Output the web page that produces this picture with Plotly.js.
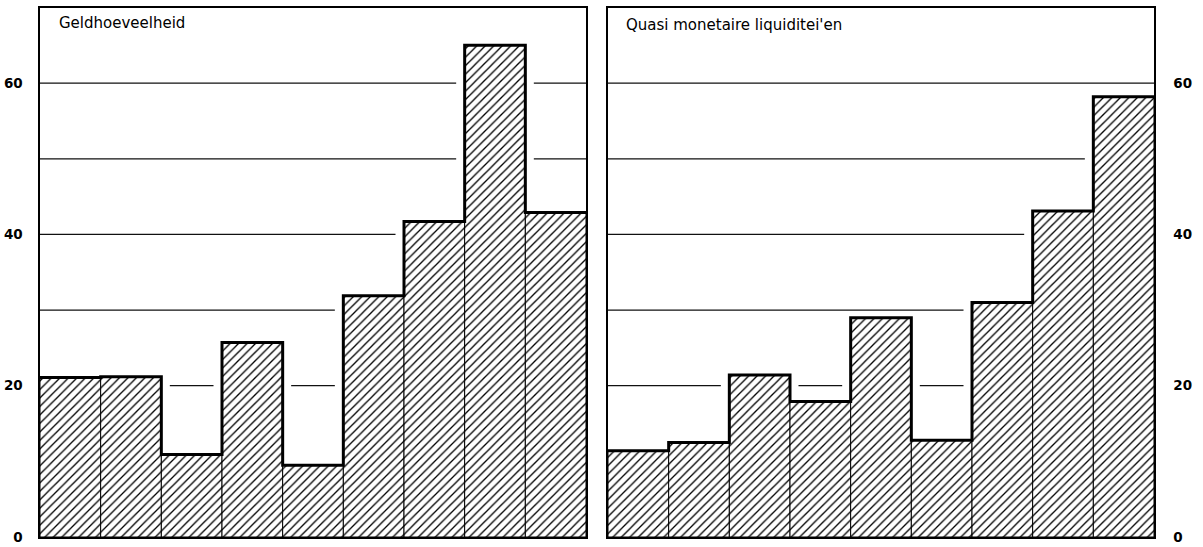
<!DOCTYPE html>
<html>
<head>
<meta charset="utf-8">
<script src="https://cdn.plot.ly/plotly-3.0.1.min.js"></script>
<style>
  html, body { margin: 0; padding: 0; background: #fff; }
  #chart { width: 1203px; height: 547px; }
</style>
</head>
<body>
<div id="chart"></div>
<script>
// Panel titles
const titleLeft = "Geldhoeveelheid";
const titleRight = "Quasi monetaire liquiditei'en";

// Nine consecutive periods per panel (values in index units)
const geldhoeveelheid = [21.1, 21.2, 10.9, 25.7, 9.5, 31.9, 41.7, 65.0, 42.9];
const quasiMonetair   = [11.4, 12.5, 21.4, 17.9, 29.0, 12.8, 31.0, 43.1, 58.2];

// Axis ticks and the horizontal reference levels
const tickValues = [0, 20, 40, 60];
const tickLabels = ["0", "20", "40", "60"];
const gridLevels = [20, 30, 40, 50, 60];

const yMax = 70;
const nBars = geldhoeveelheid.length;
const barCentres = geldhoeveelheid.map((_, i) => i + 0.5);
const stepX = Array.from({length: nBars + 1}, (_, i) => i);

function hatchedBars(vals, xa, ya) {
  return {
    type: 'bar', x: barCentres, y: vals, width: 1,
    xaxis: xa, yaxis: ya,
    marker: {
      color: 'white',
      line: {color: '#000', width: 1},
      pattern: {shape: '/', fgcolor: '#000', bgcolor: '#fff', size: 6, solidity: 0.22}
    },
    hoverinfo: 'skip', showlegend: false
  };
}

function outline(vals, xa, ya) {
  return {
    type: 'scatter', mode: 'lines', x: stepX, y: vals.concat([vals[vals.length - 1]]),
    xaxis: xa, yaxis: ya, line: {shape: 'hv', color: '#000', width: 3},
    hoverinfo: 'skip', showlegend: false, cliponaxis: false
  };
}

// Reference lines run only over the empty area, stopping short of the bars
function gridShapes(vals, xref, yref) {
  const pad = 0.14;
  const shapes = [];
  gridLevels.forEach(level => {
    let i = 0;
    while (i < vals.length) {
      if (vals[i] < level) {
        let j = i;
        while (j + 1 < vals.length && vals[j + 1] < level) j++;
        const x0 = i === 0 ? 0 : i + pad;
        const x1 = j === vals.length - 1 ? vals.length : j + 1 - pad;
        shapes.push({
          type: 'line', xref: xref, yref: yref, x0: x0, x1: x1, y0: level, y1: level,
          line: {color: '#111', width: 1.2}, layer: 'below'
        });
        i = j + 1;
      } else {
        i++;
      }
    }
  });
  return shapes;
}

const data = [
  hatchedBars(geldhoeveelheid, 'x', 'y'),
  outline(geldhoeveelheid, 'x', 'y'),
  hatchedBars(quasiMonetair, 'x2', 'y2'),
  outline(quasiMonetair, 'x2', 'y2')
];

const yDomain = [10 / 547, 539.5 / 547];
const tickFont = {family: 'DejaVu Sans', size: 13.5, color: '#000', weight: 'bold'};

const xCommon = {
  range: [0, nBars], showgrid: false, zeroline: false, showticklabels: false,
  ticks: '', showline: true, mirror: true, linecolor: '#000', linewidth: 1.6, fixedrange: true
};
const yCommon = {
  range: [0, yMax], showgrid: false, zeroline: false, ticks: '',
  tickvals: tickValues, ticktext: tickLabels, tickfont: tickFont,
  showline: true, mirror: true, linecolor: '#000', linewidth: 1.6, fixedrange: true,
  domain: yDomain
};

const layout = {
  width: 1203, height: 547,
  margin: {l: 0, r: 0, t: 0, b: 0},
  paper_bgcolor: '#fff', plot_bgcolor: '#fff',
  bargap: 0,
  xaxis: Object.assign({}, xCommon, {domain: [40 / 1203, 586 / 1203], anchor: 'y'}),
  yaxis: Object.assign({}, yCommon, {anchor: 'x', side: 'left', ticklabelstandoff: 13}),
  xaxis2: Object.assign({}, xCommon, {domain: [608 / 1203, 1154 / 1203], anchor: 'y2'}),
  yaxis2: Object.assign({}, yCommon, {anchor: 'x2', side: 'right', ticklabelstandoff: 15}),
  shapes: gridShapes(geldhoeveelheid, 'x', 'y').concat(gridShapes(quasiMonetair, 'x2', 'y2')),
  annotations: [
    {text: titleLeft, xref: 'paper', yref: 'paper', x: 57 / 1203, y: 1 - 23 / 547,
     xanchor: 'left', yanchor: 'middle', showarrow: false,
     font: {family: 'DejaVu Sans', size: 15, color: '#000'}},
    {text: titleRight, xref: 'paper', yref: 'paper', x: 624 / 1203, y: 1 - 25 / 547,
     xanchor: 'left', yanchor: 'middle', showarrow: false,
     font: {family: 'DejaVu Sans', size: 15, color: '#000'}}
  ]
};

Plotly.newPlot('chart', data, layout, {displayModeBar: false, staticPlot: true});
</script>
</body>
</html>
